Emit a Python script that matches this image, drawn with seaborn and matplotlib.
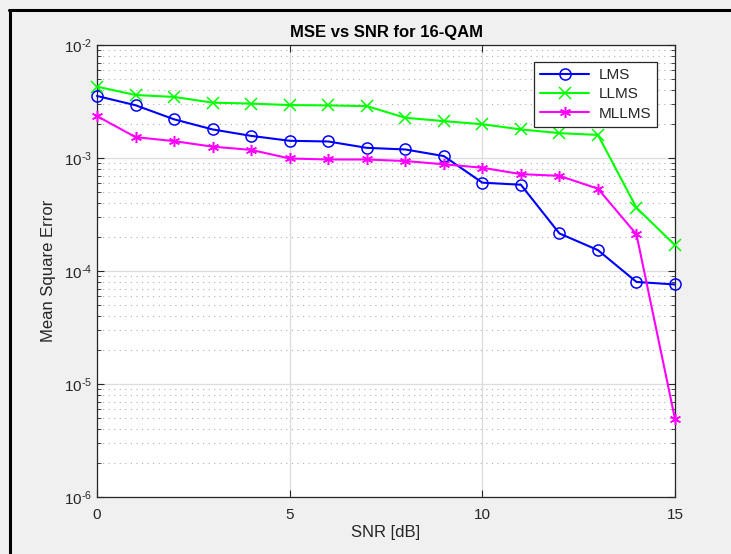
import matplotlib
matplotlib.use("Agg")
import matplotlib.pyplot as plt
import seaborn as sns
import pandas as pd
import numpy as np
from matplotlib.lines import Line2D
from matplotlib.ticker import LogLocator, FixedLocator, NullFormatter, FuncFormatter

snr = [0, 1, 2, 3, 4, 5, 6, 7, 8, 9, 10, 11, 12, 13, 14, 15]
lms = [3.54e-3, 2.93e-3, 2.2e-3, 1.79e-3, 1.57e-3, 1.42e-3, 1.40e-3, 1.23e-3,
       1.19e-3, 1.04e-3, 6.05e-4, 5.8e-4, 2.15e-4, 1.53e-4, 8.0e-5, 7.6e-5]
llms = [4.28e-3, 3.61e-3, 3.47e-3, 3.09e-3, 3.03e-3, 2.94e-3, 2.92e-3, 2.88e-3,
        2.27e-3, 2.12e-3, 1.99e-3, 1.79e-3, 1.66e-3, 1.6e-3, 3.63e-4, 1.69e-4]
mllms = [2.35e-3, 1.53e-3, 1.41e-3, 1.26e-3, 1.18e-3, 9.9e-4, 9.7e-4, 9.7e-4,
         9.4e-4, 8.8e-4, 8.2e-4, 7.2e-4, 6.95e-4, 5.35e-4, 2.11e-4, 4.9e-6]
series_names = ["LMS", "LLMS", "MLLMS"]
x_ticks = [0, 5, 10, 15]

sns.set_style("ticks")
plt.rcParams['font.family'] = ['Liberation Sans', 'DejaVu Sans']
plt.rcParams['mathtext.fontset'] = 'custom'
plt.rcParams['mathtext.rm'] = 'Liberation Sans'
plt.rcParams['mathtext.it'] = 'Liberation Sans'
plt.rcParams['axes.unicode_minus'] = False

W, H = 731, 554
fig = plt.figure(figsize=(W / 100, H / 100), dpi=100, facecolor="#F0F0F0")
ax = fig.add_axes([97 / W, 1 - 497 / H, (675 - 97) / W, (497 - 45) / H])
ax.set_facecolor("white")

df = pd.DataFrame({"SNR": snr * 3,
                   "MSE": lms + llms + mllms,
                   "method": sum([[n] * len(snr) for n in series_names], [])})

colors = {"LMS": "#0000FF", "LLMS": "#00FF00", "MLLMS": "#FF00FF"}
markers = {"LMS": "o", "LLMS": "x", "MLLMS": (6, 2, 0)}
for name in series_names:
    sub = df[df["method"] == name]
    mk = markers[name]
    kw = dict(markerfacecolor="none") if name == "LMS" else {}
    sns.lineplot(data=sub, x="SNR", y="MSE", ax=ax, color=colors[name],
                 marker=mk, markersize=8, markeredgecolor=colors[name],
                 markeredgewidth=1.1, linewidth=1.5, label=name, zorder=3,
                 clip_on=False, **kw)

ax.set_yscale("log")
ax.set_xlim(0, 15)
ax.set_ylim(1e-6, 1e-2)
ax.xaxis.set_major_locator(FixedLocator(x_ticks))
ax.set_xticklabels([str(t) for t in x_ticks])
ax.yaxis.set_major_locator(LogLocator(base=10, numticks=10))
ax.yaxis.set_major_formatter(FuncFormatter(
    lambda v, p: r"$10^{\text{%d}}$" % int(round(np.log10(v)))))
ax.yaxis.set_minor_locator(LogLocator(base=10, subs=np.arange(2, 10), numticks=20))
ax.yaxis.set_minor_formatter(NullFormatter())

ax.grid(True, which="major", axis="both", color="#DCDCDC", linewidth=0.9, linestyle="-", zorder=0)
ax.grid(True, which="minor", axis="y", color="#B0B0B0", linewidth=0.8, linestyle=(0, (1, 4)), zorder=0)
ax.set_axisbelow(True)

ax.tick_params(which="both", direction="in", top=True, right=True, color="#262626",
               labelcolor="#262626", labelsize=11)
ax.tick_params(which="major", length=5, width=0.8)
ax.tick_params(which="minor", length=3, width=0.6)
ax.tick_params(axis="x", pad=8)
for s in ax.spines.values():
    s.set_color("#262626")
    s.set_linewidth(0.9)

ax.set_title("MSE vs SNR for 16-QAM", fontsize=12, fontweight="bold", color="black", pad=6)
ax.set_xlabel("SNR [dB]", fontsize=12, color="#262626", labelpad=2)
ax.set_ylabel("Mean Square Error", fontsize=12, color="#262626", labelpad=6)

leg = ax.legend(loc="upper right", bbox_to_anchor=(657 / 578 - 97 / 578, 1 - (62 - 45) / 452),
                fontsize=11, frameon=True, fancybox=False, framealpha=1,
                edgecolor="#262626", handlelength=3.2, borderpad=0.4,
                labelspacing=0.35, handletextpad=0.6, borderaxespad=0)
leg.get_frame().set_linewidth(0.9)

# frame border as in the screenshot
fig.add_artist(Line2D([9.5 / W, 9.5 / W], [0, 1 - 9.5 / H], color="black", lw=2.2,
                      transform=fig.transFigure))
fig.add_artist(Line2D([8.5 / W, 1], [1 - 10 / H, 1 - 10 / H], color="black", lw=2.2,
                      transform=fig.transFigure))

fig.savefig("out.png", dpi=100, facecolor=fig.get_facecolor())
